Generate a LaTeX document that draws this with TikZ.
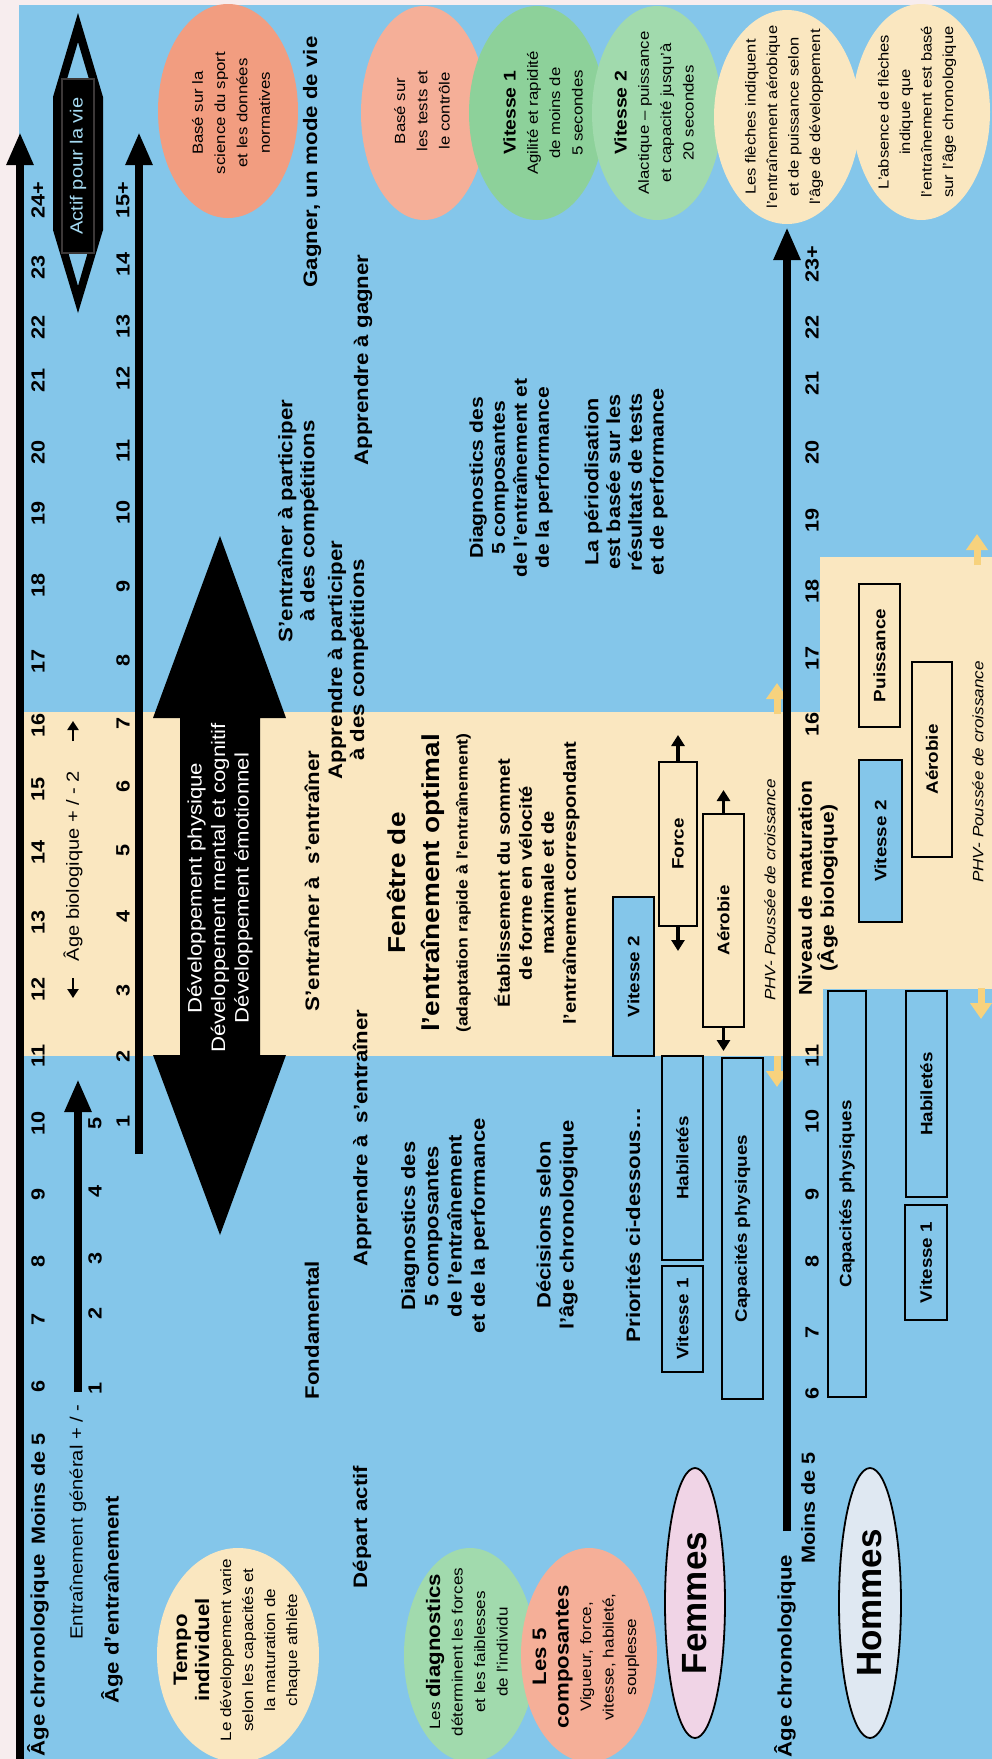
\documentclass[tikz,border=0pt]{standalone}
\usepackage{fontspec}
\setmainfont{Liberation Sans}[FakeStretch=1.14]
\newfontfamily\grandefonte{Liberation Sans}
\usetikzlibrary{arrows.meta,shapes.geometric}

\definecolor{marge}{RGB}{247,237,238}
\definecolor{fond}{RGB}{132,198,234}
\definecolor{sable}{RGB}{250,231,192}
\definecolor{saumon}{RGB}{242,157,128}
\definecolor{saumonclair}{RGB}{245,175,152}
\definecolor{vert}{RGB}{141,209,154}
\definecolor{vertclair}{RGB}{161,218,173}
\definecolor{rose}{RGB}{240,212,230}
\definecolor{grisbleu}{RGB}{223,232,242}
\definecolor{jaune}{RGB}{247,210,125}
\definecolor{bleuclair}{RGB}{165,218,242}
\definecolor{grisfonce}{RGB}{60,56,56}

\newcommand{\taille}[2]{\fontsize{#1}{#2}\selectfont}

\tikzset{
  texte/.style={rotate=90, inner sep=0pt, align=center},
  chiffre/.style={texte, font=\taille{19}{22}\bfseries},
  titre/.style={texte, font=\taille{19.5}{23}\bfseries},
  petit/.style={texte, font=\taille{14.7}{22.3}},
  bulle/.style={ellipse, inner sep=0pt, draw=none},
  boite/.style={rotate=90, draw=black, line width=2.2pt, inner sep=0pt, font=\taille{16.5}{19}\bfseries},
  axe/.style={line width=8.5pt, -{Triangle[width=25pt,length=33pt]}},
  fleche/.style={line width=3.3pt, -{Triangle[width=13pt,length=11pt]}},
  petitefleche/.style={line width=2.6pt, -{Triangle[width=11pt,length=9pt]}},
  fjaune/.style={draw=jaune, line width=7pt, -{Triangle[width=21pt,length=16pt,fill=jaune]}}
}

\begin{document}
\begin{tikzpicture}[x=1pt,y=-1pt]
  \useasboundingbox (0,0) rectangle (992,1759);
  % fond
  \fill[marge] (0,0) rectangle (992,1759);
  \fill[fond] (19,5) rectangle (992,1759);
  \fill[sable] (19,712) rectangle (823,1056);
  \fill[sable] (820,557) rectangle (992,989);

  % bulles du haut
  \node at (228,111) (science) [bulle, fill=saumon, minimum width=140, minimum height=214] {};
  \node at (231,113) (science-t) [petit] {Basé sur la\\science du sport\\et les données\\normatives};
  \node at (424,113) (tests) [bulle, fill=saumonclair, minimum width=126, minimum height=214] {};
  \node at (422,111) (tests-t) [petit] {Basé sur\\les tests et\\le contrôle};
  \node at (537,113) (vit1) [bulle, fill=vert, minimum width=136, minimum height=214] {};
  \node at (543,113) (vit1-t) [petit] {{\taille{17}{22}\bfseries Vitesse 1}\\Agilité et rapidité\\de moins de\\5 secondes};
  \node at (657,113) (vit2) [bulle, fill=vertclair, minimum width=130, minimum height=214] {};
  \node at (654,113) (vit2-t) [petit] {{\taille{17}{22}\bfseries Vitesse 2}\\Alactique – puissance\\et capacité jusqu'à\\20 secondes};
  \node at (787,117) (fleches) [bulle, fill=sable, minimum width=146, minimum height=214] {};
  \node at (784,117) (fleches-t) [petit, font=\taille{14.5}{21.5}] {Les flèches indiquent\\l'entraînement aérobique\\et de puissance selon\\l'âge de développement};
  \node at (921,112) (absence) [bulle, fill=sable, minimum width=138, minimum height=216] {};
  \node at (917,112) (absence-t) [petit, font=\taille{14.5}{21.5}] {L'absence de flèches\\indique que\\l'entraînement est basé\\sur l'âge chronologique};

  % bulles du bas
  \node at (238,1655) (tempo) [bulle, fill=sable, minimum width=162, minimum height=214] {};
  \node at (237,1650) (tempo-t) [petit, font=\taille{15}{22}] {{\taille{19.5}{24}\bfseries Tempo}\\{\taille{19.5}{24}\bfseries individuel}\\Le développement varie\\selon les capacités et\\la maturation de\\chaque athlète};
  \node at (470,1655) (diagnostics) [bulle, fill=vertclair, minimum width=132, minimum height=214] {};
  \node at (467,1652) (diagnostics-t) [petit, font=\taille{15}{22.5}] {Les {\taille{19.5}{22}\bfseries diagnostics}\\déterminent les forces\\et les faiblesses\\de l'individu};
  \node at (589,1655) (composantes) [bulle, fill=saumonclair, minimum width=136, minimum height=214] {};
  \node at (586,1657) (composantes-t) [petit, font=\taille{15}{22.5}] {{\taille{19.5}{22}\bfseries Les 5}\\{\taille{19.5}{22}\bfseries composantes}\\Vigueur, force,\\vitesse, habileté,\\souplesse};

  \node at (695,1603) (femmes) [rotate=90, ellipse, draw, fill=rose, line width=1.8pt, minimum width=270, minimum height=60, inner sep=0pt, font=\grandefonte\taille{35}{40}\bfseries] {Femmes};
  \node at (870,1603) (hommes) [rotate=90, ellipse, draw, fill=grisbleu, line width=1.8pt, minimum width=270, minimum height=62, inner sep=0pt, font=\grandefonte\taille{35}{40}\bfseries] {Hommes};

  % actif pour la vie
  \fill[even odd rule] (78,13) -- (103,97) -- (103,230) -- (78,313) -- (53,230) -- (53,97) -- cycle
    (78,42) -- (94,96) -- (94,231) -- (78,286) -- (62,231) -- (62,96) -- cycle;
  \node at (78,166) (actif) [rotate=90, fill=black, draw=grisfonce, line width=1.5pt, minimum width=174, minimum height=32, inner sep=0pt, text=bleuclair, font=\taille{17.6}{20}] {Actif pour la vie};

  % grande fleche double
  \fill (220,536) -- (286,718) -- (260,718) -- (260,1055) -- (286,1055) -- (220,1235)
    -- (153,1055) -- (180,1055) -- (180,718) -- (153,718) -- cycle;
  \node at (220,888) (devel) [texte, text=white, font=\taille{19.5}{23.5}] {Développement physique\\Développement mental et cognitif\\Développement émotionnel};

  % axes
  \coordinate (chrono-bas) at (20,1759);
  \coordinate (chrono-haut) at (20,132);
  \draw[axe] (chrono-bas) -- (chrono-haut);
  \coordinate (entr-bas) at (139,1154);
  \coordinate (entr-haut) at (139,132);
  \draw[axe] (entr-bas) -- (entr-haut);
  \coordinate (gen-bas) at (78,1392);
  \coordinate (gen-haut) at (78,1079);
  \draw[axe] (gen-bas) -- (gen-haut);

  \foreach \age/\y [count=\i] in {24+/200, 23/267, 22/327, 21/380, 20/452, 19/513, 18/585, 17/661, 16/725, 15/789, 14/852, 13/922, 12/989, 11/1056, 10/1123, 9/1194, 8/1261, 7/1319, 6/1386}
    \node at (38,\y) (chrono\i) [chiffre] {\age};
  \node at (38,1489) (chrono-moins) [chiffre] {Moins de 5};
  \node at (38,1655) (chrono-titre) [chiffre, font=\taille{19.5}{22}\bfseries] {Âge chronologique};

  \foreach \age/\y [count=\i] in {15+/200, 14/264, 13/326, 12/378, 11/451, 10/512, 9/586, 8/660, 7/723, 6/786, 5/850, 4/916, 3/990, 2/1056, 1/1121}
    \node at (123,\y) (entr\i) [chiffre] {\age};
  \node at (112,1600) (entr-titre) [titre] {Âge d’entraînement};

  \foreach \age/\y [count=\i] in {1/1388, 2/1313, 3/1258, 4/1191, 5/1123}
    \node at (95,\y) (gen\i) [chiffre] {\age};
  \node at (78,1522) (gen-titre) [texte, font=\taille{17.7}{20}] {Entraînement général + / -};

  \node at (73,866) (bio) [texte, font=\taille{17.6}{20}] {Âge biologique + / - 2};
  \coordinate (bio-g1) at (73,978);
  \coordinate (bio-g2) at (73,998);
  \draw[petitefleche] (bio-g1) -- (bio-g2);
  \coordinate (bio-d1) at (73,741);
  \coordinate (bio-d2) at (73,721);
  \draw[petitefleche] (bio-d1) -- (bio-d2);

  % etapes
  \node at (312,162) (gagner) [titre] {Gagner, un mode de vie};
  \node at (363,360) (app-gagner) [titre] {Apprendre à gagner};
  \node at (298,521) (ent-comp) [titre, font=\taille{19.5}{22}\bfseries] {S’entraîner à participer\\à des compétitions};
  \node at (348,660) (app-comp) [titre, font=\taille{19.5}{22}\bfseries] {Apprendre à participer\\à des compétitions};
  \node at (312,881) (ent-ent) [titre] {S’entraîner à\ \ s’entraîner};
  \node at (362,1138) (app-ent) [titre] {Apprendre à\ \ s’entraîner};
  \node at (312,1330) (fondam) [titre] {Fondamental};
  \node at (362,1527) (depart) [titre] {Départ actif};

  \node at (511,478) (diag-haut) [titre, font=\taille{18.5}{22}\bfseries] {Diagnostics des\\5 composantes\\de l’entraînement et\\de la performance};
  \node at (626,482) (period) [titre, font=\taille{19}{21.7}\bfseries] {La périodisation\\est basée sur les\\résultats de tests\\et de performance};
  \node at (429,883) (fenetre) [titre, font=\taille{24.5}{30}\bfseries] {Fenêtre de\\[4pt]l’entraînement optimal\\[-2pt]{\taille{15.5}{20}(adaptation rapide à l’entraînement)}};
  \node at (537,883) (sommet) [titre, font=\taille{17.6}{22}\bfseries] {Établissement du sommet\\de forme en vélocité\\maximale et de\\l’entraînement correspondant};
  \node at (445,1226) (diag-bas) [titre, font=\taille{19.3}{23.3}\bfseries] {Diagnostics des\\5 composantes\\de l’entraînement\\et de la performance};
  \node at (557,1225) (decisions) [titre, font=\taille{19.3}{23}\bfseries] {Décisions selon\\l’âge chronologique};
  \node at (633,1225) (priorites) [titre] {Priorités ci-dessous…};

  % boites femmes
  \node at (633.5,976.5) (vit2f) [boite, fill=fond, minimum width=159, minimum height=41] {Vitesse 2};
  \node at (678,844) (forcef) [boite, fill=sable, minimum width=164, minimum height=38] {Force};
  \node at (723.5,920.5) (aerof) [boite, fill=sable, minimum width=213, minimum height=41] {Aérobie};
  \node at (682.5,1158) (habf) [boite, fill=fond, minimum width=204, minimum height=41] {Habiletés};
  \node at (682.5,1319) (vit1f) [boite, fill=fond, minimum width=106, minimum height=41] {Vitesse 1};
  \node at (742.5,1228.5) (capf) [boite, fill=fond, minimum width=341, minimum height=41] {Capacités physiques};
  \coordinate (forcef-h) at (678,735);
  \coordinate (forcef-b) at (678,951);
  \coordinate (aerof-h) at (723.5,790);
  \coordinate (aerof-b) at (723.5,1051);
  \draw[fleche] (forcef.east) -- (forcef-h);
  \draw[fleche] (forcef.west) -- (forcef-b);
  \draw[fleche] (aerof.east) -- (aerof-h);
  \draw[fleche] (aerof.west) -- (aerof-b);

  % poussee de croissance
  \coordinate (phv1-a) at (777,714);
  \coordinate (phv1-b) at (777,683);
  \coordinate (phv2-a) at (777,1056);
  \coordinate (phv2-b) at (777,1087);
  \coordinate (phv3-a) at (977,565);
  \coordinate (phv3-b) at (977,534);
  \coordinate (phv4-a) at (981,988);
  \coordinate (phv4-b) at (981,1019);
  \draw[fjaune] (phv1-a) -- (phv1-b);
  \draw[fjaune] (phv2-a) -- (phv2-b);
  \draw[fjaune] (phv3-a) -- (phv3-b);
  \draw[fjaune] (phv4-a) -- (phv4-b);
  \node at (770,890) (phvf) [texte, font=\taille{15}{18}\itshape] {PHV- Poussée de croissance};
  \node at (978,772) (phvh) [texte, font=\taille{15}{18}\itshape] {PHV- Poussée de croissance};

  % axe hommes
  \coordinate (hom-bas) at (787,1531);
  \coordinate (hom-haut) at (787,227);
  \draw[axe] (hom-bas) -- (hom-haut);
  \foreach \age/\y [count=\i] in {23+/264, 22/327, 21/383, 20/452, 19/520, 18/591, 17/658, 16/724, 11/1056, 10/1121, 9/1194, 8/1261, 7/1332, 6/1393}
    \node at (812,\y) (hom\i) [chiffre] {\age};
  \node at (808,1508) (hom-moins) [chiffre] {Moins de 5};
  \node at (785,1656) (hom-titre) [chiffre, font=\taille{19.5}{22}\bfseries] {Âge chronologique};
  \node at (818,888) (maturation) [titre, font=\taille{18.5}{22}\bfseries] {Niveau de maturation\\(Âge biologique)};

  % boites hommes
  \node at (879.5,655.5) (puis) [boite, fill=sable, minimum width=143, minimum height=41] {Puissance};
  \node at (932,759.5) (aeroh) [boite, fill=sable, minimum width=195, minimum height=40] {Aérobie};
  \node at (880.5,841) (vit2h) [boite, fill=fond, minimum width=162, minimum height=43] {Vitesse 2};
  \node at (847,1194) (caph) [boite, fill=fond, minimum width=406, minimum height=38] {Capacités physiques};
  \node at (926.5,1094) (habh) [boite, fill=fond, minimum width=206, minimum height=41] {Habiletés};
  \node at (926,1262.5) (vit1h) [boite, fill=fond, minimum width=115, minimum height=42] {Vitesse 1};
\end{tikzpicture}
\end{document}
